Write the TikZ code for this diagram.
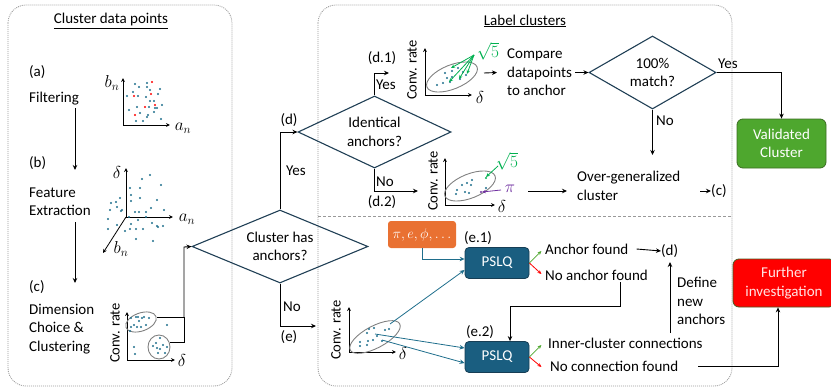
\documentclass[tikz,border=0pt]{standalone}
\usepackage{fontspec}
\setmainfont{Carlito}
\usetikzlibrary{arrows.meta,shapes.geometric}
\definecolor{dotc}{HTML}{1F6E8C}
\definecolor{navy}{HTML}{203F55}
\definecolor{pslqc}{HTML}{1A5E80}
\definecolor{pslqb}{HTML}{163E55}
\definecolor{orng}{HTML}{E97132}
\definecolor{grn}{HTML}{4EA72E}
\definecolor{grnb}{HTML}{3B6E22}
\definecolor{ancg}{HTML}{00B050}
\definecolor{okg}{HTML}{4EA72E}
\definecolor{purp}{HTML}{7030A0}
\definecolor{furb}{HTML}{4A5A20}
\definecolor{furt}{HTML}{FFE4E4}
\begin{document}
\begin{tikzpicture}[x=1pt,y=-1pt,
  every node/.style={font=\fontsize{15}{18.5}\selectfont, inner sep=0pt},
  mlbl/.style={font=\fontsize{18}{20}\selectfont},
  ln/.style={line width=0.9pt},
  arr/.style={line width=0.9pt, -{Stealth[length=5pt,width=4.5pt]}},
  axis/.style={line width=0.8pt, -{Stealth[length=4pt,width=3.8pt]}},
  blarr/.style={line width=0.8pt, draw=dotc, -{Stealth[length=5pt,width=4.5pt]}},
  garr/.style={line width=0.8pt, draw=ancg, -{Stealth[length=4pt,width=3.5pt]}},
  dec/.style={diamond, draw=navy, line width=1.1pt, align=center, inner sep=0pt},
  txt/.style={anchor=west, align=left},
  panelbox/.style={draw=gray!80, line width=0.8pt, dash pattern=on 1pt off 1pt, rounded corners=18pt},
  clu/.style={draw=gray, line width=0.9pt},
  cr/.style={rotate=90, font=\fontsize{14.5}{16}\selectfont},
  pslqbox/.style={rectangle, rounded corners=4pt, fill=pslqc, draw=pslqb, line width=0.8pt, minimum width=64pt, minimum height=31pt, text=white},
  dotsty/.style={fill=dotc}
]
\useasboundingbox (0,0) rectangle (831,388);

% panels
\draw[panelbox] (8,5) rectangle (232,386);
\draw[panelbox] (318,5) rectangle (732,386);
\draw[draw=gray!80, line width=0.8pt, dash pattern=on 3pt off 2pt] (318,216) -- (732,216);

% ---------------- left panel ----------------
\node (t1) at (111,21) {\underline{Cluster data points}};
\node[txt] (la) at (29,72) {(a)};
\node[txt] (lfilt) at (29,99) {Filtering};
\node[txt] (lb) at (29,163) {(b)};
\node[txt] (lfeat) at (29,201.5) {Feature\\Extraction};
\node[txt] (lc) at (29,287) {(c)};
\node[txt] (ldim) at (29,329) {Dimension\\Choice \&\\Clustering};
\coordinate (s1a) at (75,108); \coordinate (s1b) at (75,170);
\coordinate (s2a) at (75,222); \coordinate (s2b) at (75,283);
\draw[arr] (s1a) -- (s1b);
\draw[arr] (s2a) -- (s2b);

% plot a
\coordinate (ao) at (123,125);
\draw[axis] (ao) -- (123,78);
\draw[axis] (ao) -- (170,125);
\node[mlbl] (abn) at (112,83) {$b_n$};
\node[mlbl] (aan) at (183,128) {$a_n$};
\foreach \p in {(135,84),(147,83),(139,87),(147,87),(160,89),(150,90),(133,92),(158,94),(127,96),(138,96),(146,97),(150,101),(154,101),(162,105),(137,107),(149,107),(155,108),(157,108),(129,110),(154,112),(140,113),(148,115),(147,117),(161,119),(136,121),(143,121)}
  \fill[dotsty] \p circle (1.1pt);
\foreach \p in {(152,82),(134,96),(151,94),(145,107),(155,105),(135,115)}
  \fill[red] \p circle (1.2pt);

% plot b
\coordinate (bo) at (126,217);
\draw[axis] (bo) -- (126,168);
\draw[axis] (bo) -- (173,217);
\draw[axis] (bo) -- (103,253);
\node[mlbl] (bd) at (117,172) {$\delta$};
\node[mlbl] (ban) at (187,219) {$a_n$};
\node[mlbl] (bbn) at (121,249) {$b_n$};
\foreach \p in {(150,175),(142,179),(130,188),(140,188),(161,185),(131,195),(140,198),(157,200),(120,198),(131,201),(116,202),(111,203),(117,207),(151,208),(110,210),(121,211),(122,210),(135,212),(139,212),(146,212),(164,210),(129,217),(146,217),(108,219),(138,220),(152,223),(117,225),(131,224),(157,226),(158,227),(163,226),(130,229),(136,229),(143,229),(108,229),(125,231),(136,239),(153,241)}
  \fill[dotsty] \p circle (1.1pt);

% plot c
\coordinate (co) at (127,360);
\draw[axis] (co) -- (127,312);
\draw[axis] (co) -- (175,360);
\node[cr] (ccr) at (115,333) {Conv. rate};
\node[mlbl] (cd) at (182,360) {$\delta$};
\draw[clu] (141,322) circle [x radius=16pt, y radius=9pt, rotate=20];
\draw[clu] (159,347) circle [x radius=11pt, y radius=12pt];
\foreach \p in {(131,318),(136,317),(138,317),(142,318),(144,317),(149,318),(131,327),(134,325),(137,327),(141,327),(146,325),(130,331),(139,321),(167,325),(134,347),(135,354),(160,338),(156,343),(163,345),(157,348),(160,349),(153,346),(165,353),(158,353),(167,347)}
  \fill[dotsty] \p circle (1.1pt);

% ---------------- decisions ----------------
\node[dec, minimum width=176pt, minimum height=73pt, aspect=2.4] (cha) at (280,246.5) {Cluster has\\anchors?};
\coordinate (c1) at (157,317); \coordinate (c2) at (170,342); \coordinate (cj) at (184,247);
\draw[ln] (c1) -- (184,317) -- (184,342) -- (c2);
\draw[arr] (184,317) -- (cj) -- (cha.west);

\node[dec, minimum width=153pt, minimum height=72pt, aspect=2.1] (idn) at (374.5,132) {Identical\\anchors?};
\draw[arr] (cha.north) |- (idn.west);
\node[txt] (yes1) at (286,171) {Yes};
\node (dd) at (289,120) {(d)};
\coordinate (eend) at (316,326);
\draw[arr] (cha.south) |- (eend);
\node[txt] (no1) at (283,307) {No};
\node (ee) at (289,337) {(e)};

\coordinate (d1end) at (389,73);
\coordinate (d2end) at (418,191);
\draw[arr] (idn.north) |- (d1end);
\draw[arr] (idn.south) |- (d2end);
\node[txt] (yes2) at (376,85) {Yes};
\node (d1l) at (382,58) {(d.1)};
\node[txt] (no2) at (376,182) {No};
\node (d2l) at (382,202) {(d.2)};

% ---------------- right panel top ----------------
\node (t2) at (525,21) {\underline{Label clusters}};

% plot d1
\coordinate (d1o) at (425,95);
\draw[axis] (d1o) -- (425,48);
\draw[axis] (d1o) -- (472,95);
\node[cr] (d1cr) at (412,70) {Conv. rate};
\node[mlbl] (d1d) at (480,97) {$\delta$};
\draw[clu] (452,77) circle [x radius=27pt, y radius=12pt, rotate=22];
\foreach \p in {(443,83),(437,85),(447,78),(452,77),(460,79),(445,73),(452,71),(458,68),(463,72),(466,75),(450,82)}
  \fill[dotsty] \p circle (1.1pt);
\node[mlbl, text=ancg] (sq1) at (488,51) {$\sqrt{5}$};
\coordinate (g0) at (474,55);
\draw[garr] (g0) -- (451,68);
\draw[garr] (g0) -- (449,82);
\draw[garr] (g0) -- (459,79);
\draw[garr] (g0) -- (467,74);

\node[txt] (cmp) at (507,72.5) {Compare\\datapoints\\to anchor};
\coordinate (d1a) at (484,73);
\draw[arr] (d1a) -- ([xshift=-10pt]cmp.west);

\node[dec, minimum width=127pt, minimum height=73pt, aspect=1.7] (mt) at (652.5,72.5) {100\%\\match?};
\draw[arr] ([xshift=3pt]cmp.east) -- (mt.west);
\node[rectangle, rounded corners=6pt, fill=grn, draw=grnb, line width=0.8pt, minimum width=89pt, minimum height=49pt, text=white, align=center] (val) at (781.5,143.5) {Validated\\Cluster};
\draw[arr] (mt.east) -| (val.north);
\node (yes3) at (728,64) {Yes};
\coordinate (mtb) at (652.5,155);
\draw[arr] (mt.south) -- (mtb);
\node[txt] (no3) at (656,121) {No};

% plot d2
\coordinate (d2o) at (445,205);
\draw[axis] (d2o) -- (445,158);
\draw[axis] (d2o) -- (495,205);
\node[cr] (d2cr) at (433,181) {Conv. rate};
\node[mlbl] (d2d) at (502,206) {$\delta$};
\draw[clu] (470,186) circle [x radius=27pt, y radius=12pt, rotate=22];
\foreach \p in {(472,180),(467,183),(462,185),(471,185),(457,190),(465,192),(469,193),(456,194),(486,188)}
  \fill[dotsty] \p circle (1.1pt);
\fill[ancg] (486,178) circle (1.1pt);
\fill[purp] (481,192) circle (1.1pt);
\node[mlbl, text=ancg] (sq2) at (507,161) {$\sqrt{5}$};
\draw[garr] (498,166) -- (486,177);
\node[mlbl, text=purp] (pi2) at (510,189) {$\pi$};
\draw[line width=0.8pt, draw=purp, -{Stealth[length=4pt,width=3.5pt]}] (501,190) -- (482,192);

\node[txt] (ovg) at (577,186) {Over-generalized\\cluster};
\coordinate (d2a) at (528,191);
\coordinate (ovga) at (567,191);
\draw[arr] (d2a) -- (ovga);
\node[txt] (cref) at (711,191) {(c)};
\coordinate (cra) at (700,191);
\draw[arr] (cra) -- (cref.west);

% ---------------- right panel bottom ----------------
\node[rectangle, rounded corners=3pt, fill=orng, minimum width=68pt, minimum height=27pt, text=white, font=\fontsize{14.5}{17}\selectfont] (cst) at (422,234.5) {$\pi, e, \phi, \ldots$};
\node[pslqbox] (p1) at (497,263) {PSLQ};
\node (e1) at (478,238) {(e.1)};
\draw[blarr] (cst.south) |- ([yshift=4pt]p1.west);
\draw[line width=0.8pt, draw=okg, -{Stealth[length=4pt,width=3.5pt]}] (p1.east) -- ++(12,-12);
\draw[line width=0.8pt, draw=red, -{Stealth[length=4pt,width=3.5pt]}] (p1.east) -- ++(12,11);
\node[txt] (af) at (545,249) {Anchor found};
\node[txt] (naf) at (545,275) {No anchor found};
\node[txt] (dref) at (661,251) {(d)};
\draw[arr] ([xshift=8pt]af.east) -- (dref.west);

\node[pslqbox] (p2) at (497,357) {PSLQ};
\node (e2) at (480,332) {(e.2)};
\coordinate (nafb) at (620,282);
\draw[arr] (nafb) -- (620,306) -| ([xshift=13pt]p2.north);
\draw[line width=0.8pt, draw=okg, -{Stealth[length=4pt,width=3.5pt]}] (p2.east) -- ++(12,-12);
\draw[line width=0.8pt, draw=red, -{Stealth[length=4pt,width=3.5pt]}] (p2.east) -- ++(12,10);
\node[txt] (icc) at (548,343) {Inner-cluster connections};
\node[txt] (ncf) at (550,366) {No connection found};
\node[txt] (dna) at (677,301) {Define\\new\\anchors};
\coordinate (dnab) at (670,333);
\draw[arr] (dnab) -- (670,262);

\node[rectangle, rounded corners=6pt, fill=red, draw=furb, line width=0.8pt, minimum width=102pt, minimum height=48pt, text=furt, align=center] (fur) at (784,283) {Further\\investigation};
\draw[arr] ([xshift=20pt]ncf.east) -| ([xshift=-6pt]fur.south);

% plot e
\coordinate (eo) at (349,352);
\draw[axis] (eo) -- (349,307);
\draw[axis] (eo) -- (396,352);
\node[cr] (ecr) at (336,330) {Conv. rate};
\node[mlbl] (ed) at (403,353) {$\delta$};
\draw[clu] (375,337) circle [x radius=28pt, y radius=11pt, rotate=28];
\foreach \p in {(369,329),(374,328),(385,330),(389,329),(367,333),(377,336),(360,342),(368,341),(373,340),(382,341),(360,346),(367,345)}
  \fill[dotsty] \p circle (1.1pt);
\draw[blarr] (390,324) -- ([yshift=-7pt]p1.west);
\draw[blarr] (375,334) -- ([yshift=9pt]p2.west);
\draw[blarr] (382,340) -- ([yshift=-6pt]p2.west);
\end{tikzpicture}
\end{document}
